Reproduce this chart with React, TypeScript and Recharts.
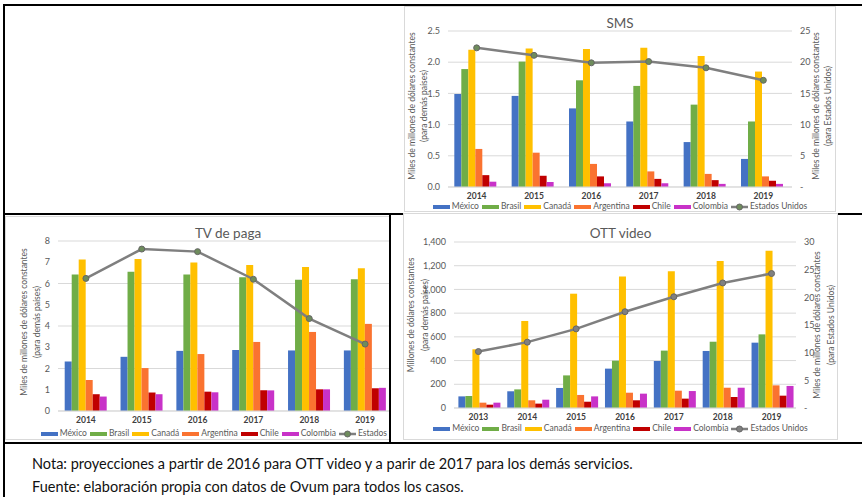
import { ComposedChart, Bar, Line, XAxis, YAxis, CartesianGrid } from "recharts";

const FONT = "Lato, 'Liberation Sans', sans-serif";

// SMS (miles de millones USD)
const smsYears = ["2014", "2015", "2016", "2017", "2018", "2019"];
const smsMexico = [1.49, 1.46, 1.26, 1.05, 0.72, 0.45];
const smsBrasil = [1.89, 2.01, 1.71, 1.62, 1.32, 1.05];
const smsCanada = [2.2, 2.22, 2.21, 2.23, 2.1, 1.85];
const smsArgentina = [0.61, 0.55, 0.37, 0.25, 0.21, 0.17];
const smsChile = [0.19, 0.18, 0.17, 0.13, 0.11, 0.1];
const smsColombia = [0.085, 0.08, 0.06, 0.06, 0.05, 0.05];
const smsUsa = [22.3, 21.1, 19.9, 20.1, 19.1, 17.1];
const smsLeftTicks = [0, 0.5, 1, 1.5, 2, 2.5];
const smsRightTicks = [0, 5, 10, 15, 20, 25];

// TV de paga
const tvYears = ["2014", "2015", "2016", "2017", "2018", "2019"];
const tvMexico = [2.33, 2.55, 2.83, 2.87, 2.85, 2.85];
const tvBrasil = [6.42, 6.55, 6.42, 6.3, 6.18, 6.2];
const tvCanada = [7.13, 7.15, 6.99, 6.87, 6.78, 6.72];
const tvArgentina = [1.46, 2.02, 2.68, 3.25, 3.72, 4.1];
const tvChile = [0.79, 0.87, 0.91, 0.98, 1.02, 1.07];
const tvColombia = [0.68, 0.79, 0.88, 0.97, 1.02, 1.09];
const tvUsa = [62.4, 76.2, 75.0, 62.0, 43.5, 31.5];
const tvLeftTicks = [0, 1, 2, 3, 4, 5, 6, 7, 8];
const tvRightTicks = [0, 10, 20, 30, 40, 50, 60, 70, 80];

// OTT video (millones USD; EE.UU. en miles de millones)
const ottYears = ["2013", "2014", "2015", "2016", "2017", "2018", "2019"];
const ottMexico = [98, 141, 169, 332, 396, 481, 551];
const ottBrasil = [101, 157, 275, 399, 484, 559, 621];
const ottCanada = [495, 734, 964, 1110, 1153, 1240, 1327];
const ottArgentina = [45, 65, 110, 129, 146, 171, 191];
const ottChile = [28, 37, 53, 65, 79, 93, 104];
const ottColombia = [45, 70, 98, 121, 143, 171, 186];
const ottUsa = [10.2, 11.9, 14.3, 17.4, 20.1, 22.6, 24.3];
const ottLeftTicks = [0, 200, 400, 600, 800, 1000, 1200, 1400];
const ottRightTicks = [0, 5, 10, 15, 20, 25, 30];

const countries = [
  { key: "mexico", name: "México", color: "#4472C4" },
  { key: "brasil", name: "Brasil", color: "#70AD47" },
  { key: "canada", name: "Canadá", color: "#FFC000" },
  { key: "argentina", name: "Argentina", color: "#FA7330" },
  { key: "chile", name: "Chile", color: "#C00000" },
  { key: "colombia", name: "Colombia", color: "#C832C8" },
];

function makeRows(years: string[], series: number[][], usa: number[]) {
  return years.map((year, i) => {
    const row: Record<string, any> = { year, usa: usa[i] };
    countries.forEach((c, j) => (row[c.key] = series[j][i]));
    return row;
  });
}

const smsRows = makeRows(smsYears, [smsMexico, smsBrasil, smsCanada, smsArgentina, smsChile, smsColombia], smsUsa);
const tvRows = makeRows(tvYears, [tvMexico, tvBrasil, tvCanada, tvArgentina, tvChile, tvColombia], tvUsa);
const ottRows = makeRows(ottYears, [ottMexico, ottBrasil, ottCanada, ottArgentina, ottChile, ottColombia], ottUsa);

function LegendRow({ top, dotFill }: { top: number; dotFill: string }) {
  return (
    <div
      style={{
        position: "absolute",
        top,
        left: 0,
        right: 0,
        height: 11,
        display: "flex",
        justifyContent: "center",
        alignItems: "center",
        gap: 3,
        fontSize: 8.5,
        lineHeight: "11px",
        color: "#595959",
        fontFamily: FONT,
        whiteSpace: "nowrap",
      }}
    >
      {countries.map((c) => (
        <span key={c.key} style={{ display: "flex", alignItems: "center" }}>
          <span style={{ width: 17, height: 4, background: c.color, marginRight: 2 }} />
          {c.name}
        </span>
      ))}
      <span style={{ display: "flex", alignItems: "center" }}>
        <svg width={17} height={8} style={{ marginRight: 2 }}>
          <line x1={0} y1={4} x2={17} y2={4} stroke="#7F7F7F" strokeWidth={2.5} />
          <circle cx={8.5} cy={4} r={3} fill={dotFill} stroke="#666" strokeWidth={1} />
        </svg>
        Estados Unidos
      </span>
    </div>
  );
}

function AxisTitle({ x, y, lines, gap = 12 }: { x: number; y: number; lines: string[]; gap?: number }) {
  return (
    <>
      {lines.map((t, i) => (
        <text
          key={i}
          x={0}
          y={0}
          transform={`translate(${x + i * gap},${y}) rotate(-90)`}
          textAnchor="middle"
          dominantBaseline="middle"
          fontSize={8.5}
          fill="#595959"
          fontFamily={FONT}
        >
          {t}
        </text>
      ))}
    </>
  );
}

interface PanelProps {
  rows: Record<string, any>[];
  box: { left: number; top: number; width: number; height: number };
  plot: { left: number; top: number; right: number; bottom: number };
  title: string;
  titleTop: number;
  legendTop: number;
  gap: string;
  leftDomain: number[];
  leftTicks: number[];
  leftFmt: (v: number) => string;
  rightDomain: number[];
  rightTicks: number[];
  rightFmt: (v: number) => string;
  showRightTicks?: boolean;
  dotFill: string;
  leftTitle: { x: number; y: number; lines: string[]; gap?: number };
  rightTitle?: { x: number; y: number; lines: string[]; gap?: number };
}

function Panel(p: PanelProps) {
  const innerL = p.box.left + 1;
  const innerT = p.box.top + 1;
  const innerW = p.box.width - 2;
  const innerH = p.box.height - 2;
  const leftW = p.plot.left - innerL;
  const rightW = innerL + innerW - p.plot.right;
  const topM = p.plot.top - innerT;
  const xH = innerT + innerH - p.plot.bottom;
  const tickStyle = { fontSize: 9, fill: "#595959", fontFamily: FONT };
  return (
    <div
      style={{
        position: "absolute",
        left: p.box.left,
        top: p.box.top,
        width: p.box.width,
        height: p.box.height,
        boxSizing: "border-box",
        border: "1px solid #D9D9D9",
        background: "#fff",
      }}
    >
      <div
        style={{
          position: "absolute",
          top: p.titleTop,
          left: 0,
          right: 0,
          textAlign: "center",
          fontSize: 13.5,
          lineHeight: "16px",
          color: "#595959",
          fontFamily: FONT,
        }}
      >
        {p.title}
      </div>
      <ComposedChart
        width={innerW}
        height={innerH}
        data={p.rows}
        margin={{ top: topM, right: 0, bottom: 0, left: 0 }}
        barCategoryGap={p.gap}
        barGap={0}
      >
        <CartesianGrid vertical={false} stroke="#D9D9D9" yAxisId="l" />
        <XAxis
          dataKey="year"
          height={xH}
          axisLine={{ stroke: "#D9D9D9" }}
          tickLine={false}
          tickMargin={0}
          tick={{ fontSize: 8.5, fontWeight: 700, fill: "#404040", fontFamily: FONT }}
        />
        <YAxis
          yAxisId="l"
          width={leftW}
          domain={p.leftDomain}
          ticks={p.leftTicks}
          tickFormatter={p.leftFmt}
          axisLine={false}
          tickLine={false}
          tick={tickStyle}
        />
        <YAxis
          yAxisId="r"
          orientation="right"
          width={rightW}
          domain={p.rightDomain}
          ticks={p.rightTicks}
          tickFormatter={p.rightFmt}
          axisLine={false}
          tickLine={false}
          tick={p.showRightTicks === false ? false : tickStyle}
        />
        {countries.map((c) => (
          <Bar key={c.key} yAxisId="l" dataKey={c.key} name={c.name} fill={c.color} isAnimationActive={false} />
        ))}
        <Line
          yAxisId="r"
          type="linear"
          dataKey="usa"
          name="Estados Unidos"
          stroke="#7F7F7F"
          strokeWidth={2.5}
          dot={{ r: 3, fill: p.dotFill, stroke: "#666", strokeWidth: 1 }}
          isAnimationActive={false}
        />
      </ComposedChart>
      <svg
        width={p.box.width}
        height={p.box.height}
        style={{ position: "absolute", left: -1, top: -1, pointerEvents: "none" }}
      >
        <AxisTitle {...p.leftTitle} />
        {p.rightTitle && <AxisTitle {...p.rightTitle} />}
      </svg>
      <LegendRow top={p.legendTop} dotFill={p.dotFill} />
    </div>
  );
}

const line = (left: number, top: number, width: number, height: number) => (
  <div style={{ position: "absolute", left, top, width, height, background: "#000" }} />
);

const fmt1 = (v: number) => v.toFixed(1);
const fmtDash = (v: number) => (v === 0 ? "-" : String(v));

export default function App() {
  return (
    <div style={{ position: "fixed", left: 0, top: 0, width: 862, height: 497, background: "#fff", overflow: "hidden" }}>
      {line(3, 4, 859, 2)}
      {line(3, 4, 2, 493)}
      {line(3, 213, 859, 2)}
      {line(389, 214, 1.5, 229)}
      {line(3, 442, 859, 2)}

      <Panel
        rows={smsRows}
        box={{ left: 404, top: 6, width: 432, height: 206 }}
        plot={{ left: 448, top: 31, right: 792, bottom: 187 }}
        title="SMS"
        titleTop={8}
        legendTop={194}
        gap="11%"
        leftDomain={[0, 2.5]}
        leftTicks={smsLeftTicks}
        leftFmt={fmt1}
        rightDomain={[0, 25]}
        rightTicks={smsRightTicks}
        rightFmt={fmtDash}
        dotFill="#6E8C5C"
        leftTitle={{ x: 9, y: 100, lines: ["Miles de millones de dólares constantes", "(para demás países)"] }}
        rightTitle={{ x: 413, y: 100, lines: ["Miles de millones de dólares constantes", "(para Estados Unidos)"] }}
      />

      <div style={{ position: "absolute", left: 5, top: 214, width: 384, height: 228, overflow: "hidden" }}>
        <div style={{ position: "absolute", left: -5, top: -214, width: 862, height: 497 }}>
          <Panel
            rows={tvRows}
            box={{ left: 5, top: 216, width: 446, height: 224 }}
            plot={{ left: 58, top: 241, right: 393, bottom: 411 }}
            title="TV de paga"
            titleTop={8}
            legendTop={211}
            gap="12%"
            leftDomain={[0, 8]}
            leftTicks={tvLeftTicks}
            leftFmt={(v) => String(v)}
            rightDomain={[0, 80]}
            rightTicks={tvRightTicks}
            rightFmt={fmtDash}
            showRightTicks={false}
            dotFill="#6E8C5C"
            leftTitle={{ x: 20, y: 106, lines: ["Miles de millones de dólares constantes", "(para demás países)"], gap: 13 }}
          />
        </div>
      </div>

      <Panel
        rows={ottRows}
        box={{ left: 403, top: 213, width: 435, height: 227 }}
        plot={{ left: 454, top: 242, right: 796, bottom: 408 }}
        title="OTT video"
        titleTop={11}
        legendTop={209}
        gap="9%"
        leftDomain={[0, 1400]}
        leftTicks={ottLeftTicks}
        leftFmt={(v) => v.toLocaleString("en-US")}
        rightDomain={[0, 30]}
        rightTicks={ottRightTicks}
        rightFmt={fmtDash}
        dotFill="#808080"
        leftTitle={{ x: 9, y: 102, lines: ["Millones de dólares constantes", "(para demás países)"], gap: 14 }}
        rightTitle={{ x: 415, y: 112, lines: ["Miles de millones de dólares constantes", "(para Estados Unidos)"], gap: 14 }}
      />

      <div
        style={{
          position: "absolute",
          left: 32,
          top: 452,
          fontFamily: FONT,
          fontSize: 14.5,
          lineHeight: "23px",
          color: "#111",
          whiteSpace: "nowrap",
        }}
      >
        <div>Nota: proyecciones a partir de 2016 para OTT video y a parir de 2017 para los demás servicios.</div>
        <div>Fuente: elaboración propia con datos de Ovum para todos los casos.</div>
      </div>
    </div>
  );
}
